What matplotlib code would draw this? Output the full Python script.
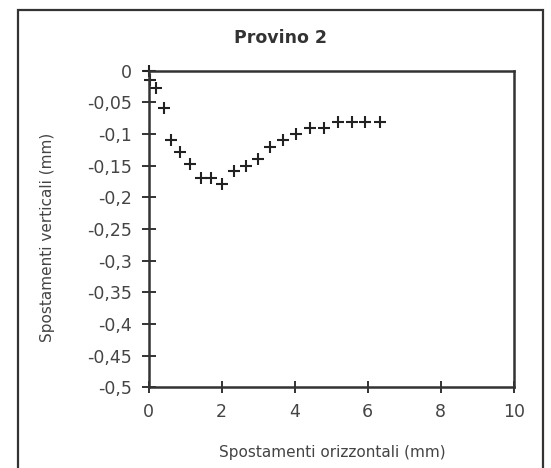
import matplotlib
matplotlib.use("Agg")
import matplotlib.pyplot as plt
from matplotlib.patches import Rectangle

plt.rcParams['font.family'] = ['DejaVu Sans']

title = "Provino 2"
xlabel = "Spostamenti orizzontali (mm)"
ylabel = "Spostamenti verticali (mm)"

x_oriz = [0.0, 0.05, 0.2, 0.43, 0.61, 0.87, 1.13, 1.43, 1.70, 2.02, 2.34, 2.66,
          3.0, 3.34, 3.68, 4.04, 4.41, 4.80, 5.19, 5.56, 5.94, 6.35]
y_vert = [0.0, -0.015, -0.027, -0.059, -0.109, -0.128, -0.148, -0.170, -0.170, -0.179,
          -0.159, -0.151, -0.140, -0.120, -0.109, -0.100, -0.090, -0.090, -0.081,
          -0.081, -0.081, -0.081]

xticks = [0, 2, 4, 6, 8, 10]
xticklabels = ["0", "2", "4", "6", "8", "10"]
yticks = [0, -0.05, -0.1, -0.15, -0.2, -0.25, -0.3, -0.35, -0.4, -0.45, -0.5]
yticklabels = ["0", "-0,05", "-0,1", "-0,15", "-0,2", "-0,25", "-0,3", "-0,35",
               "-0,4", "-0,45", "-0,5"]

W, H = 551, 468
fig = plt.figure(figsize=(W / 100, H / 100), dpi=100)
fig.patch.set_facecolor("white")

# outer chart border
fig.patches.append(Rectangle((18 / W, -0.05), (543 - 18) / W, 1 - 10 / H + 0.05,
                             transform=fig.transFigure, fill=False,
                             edgecolor="#333333", linewidth=1.6))

ax = fig.add_axes([148.5 / W, 1 - 387.3 / H, (513.7 - 148.5) / W, (387.3 - 70.7) / H])
ax.plot(x_oriz, y_vert, linestyle="none", marker="+", markersize=8.5,
        markeredgewidth=1.5, color="#222222", clip_on=False)

ax.set_xlim(0, 10)
ax.set_ylim(-0.5, 0)
ax.set_xticks(xticks)
ax.set_xticklabels(xticklabels)
ax.set_yticks(yticks)
ax.set_yticklabels(yticklabels)
ax.tick_params(direction="inout", width=1.4, colors="#333333",
               labelsize=12.5, labelcolor="#444444")
ax.tick_params(axis="x", pad=7, length=9)
ax.tick_params(axis="y", pad=7, length=10)
for s in ax.spines.values():
    s.set_linewidth(1.8)
    s.set_color("#333333")

fig.text(281 / W, 1 - 38 / H, title, ha="center", va="center",
         fontsize=12.5, fontweight="bold", color="#333333")
fig.text(332 / W, 1 - 452 / H, xlabel, ha="center", va="center",
         fontsize=11, color="#444444")
fig.text(48 / W, 1 - 237 / H, ylabel, ha="center", va="center",
         rotation=90, fontsize=11, color="#444444")

fig.savefig("out.png", dpi=100)
